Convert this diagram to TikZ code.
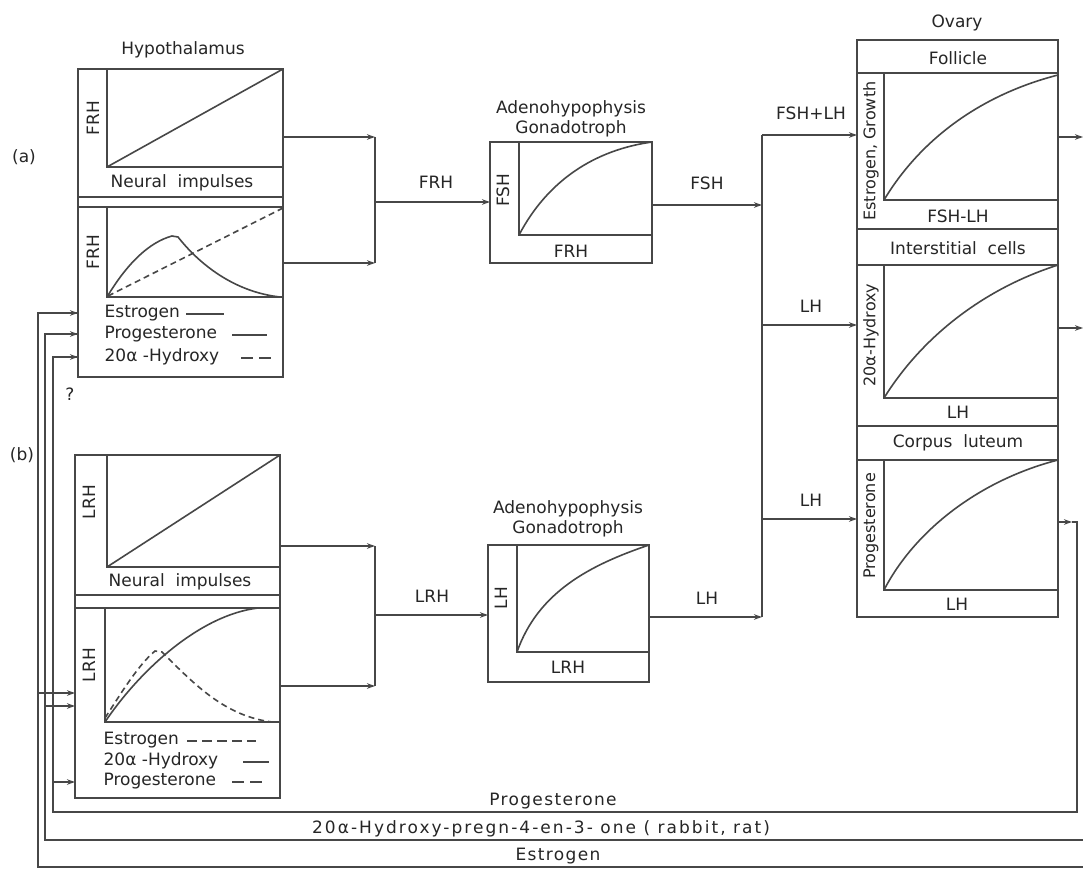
\documentclass[tikz,border=0pt]{standalone}
\usepackage{fontspec}
\setmainfont{DejaVu Sans}
\newfontfamily\widefont{DejaVu Sans}[LetterSpace=8]
\newfontfamily\widerfont{DejaVu Sans}[LetterSpace=12]
\usetikzlibrary{arrows.meta}
\begin{document}
\begin{tikzpicture}[x=1pt,y=-1pt,line width=1.3pt,color=black!72,
  box/.style={draw,rectangle,inner sep=0pt,outer sep=0pt,anchor=north west},
  lbl/.style={text=black!85,font=\fontsize{17}{19}\selectfont,inner sep=0pt},
  slbl/.style={text=black!85,font=\fontsize{16}{18}\selectfont,inner sep=0pt},
  blbl/.style={text=black!85,font=\fontsize{17}{19}\selectfont\widefont,inner sep=0pt},
  arr/.style={-{Stealth[length=8pt,width=5.5pt]}},
  dsh/.style={dash pattern=on 6pt off 4pt},
  curve/.style={line width=1.6pt}]
\useasboundingbox (0,0) rectangle (1083,869);
\fill[white] (0,0) rectangle (1083,869);

% ---------- side labels ----------
\node[lbl] (la) at (24,157) {(a)};
\node[lbl] (lb) at (22,455) {(b)};
\node[lbl] (qm) at (70,394) {?};

% ---------- Hypothalamus (a) ----------
\node[lbl] (tHypA) at (183,50) {Hypothalamus};
\node[box,minimum width=205,minimum height=308] (hypA) at (78,69) {};
\draw (107,69) -- (107,167) -- (283,167);
\draw (78,197) -- (283,197);
\draw (78,207) -- (283,207);
\draw (107,207) -- (107,297) -- (283,297);
\draw[curve] (107,167) -- (283,69);
\node[lbl] (niA) at (182,183) {Neural\ \ impulses};
\node[lbl,rotate=90] (frhA1) at (93,118) {FRH};
\node[lbl,rotate=90] (frhA2) at (93,252) {FRH};
\draw[curve] (107,297) .. controls (128,262) and (150,242) .. (172,236) -- (178,237)
  .. controls (200,265) and (235,292) .. (280,297);
\draw[curve,dsh] (108,296) -- (283,208);
\node[lbl,anchor=west] (legA1) at (104,313) {Estrogen};
\draw (186,314) -- (224,314);
\node[lbl,anchor=west] (legA2) at (104,334) {Progesterone};
\draw (232,335) -- (267,335);
\node[lbl,anchor=west] (legA3) at (104,357) {20α -Hydroxy};
\draw[dash pattern=on 12pt off 6pt] (241,358) -- (271,358);

% junction (a)
\coordinate (jA1) at (375,137);
\coordinate (jA2) at (375,263);
\coordinate (jAm) at (375,202);
\draw (jA1) -- (jA2);
\draw[arr] (hypA.east |- jA1) -- (jA1);
\draw[arr] (hypA.east |- jA2) -- (jA2);

% ---------- Adenohypophysis (a) ----------
\node[lbl] (tAdA1) at (571,109) {Adenohypophysis};
\node[lbl] (tAdA2) at (571,129) {Gonadotroph};
\node[box,minimum width=162,minimum height=121] (adA) at (490,142) {};
\draw (519,142) -- (519,235) -- (652,235);
\draw[curve] (519,235) .. controls (548,180) and (595,150) .. (652,142);
\node[lbl,rotate=90] (fshA) at (503,190) {FSH};
\node[lbl] (frhA3) at (571,251) {FRH};
\draw[arr] (jAm) -- (adA.west |- jAm);
\node[lbl] (lFRH) at (436,182) {FRH};

% ---------- ovary junction ----------
\coordinate (jO1) at (762,135);
\coordinate (jO2) at (762,325);
\coordinate (jO3) at (762,519);
\coordinate (jO4) at (762,617);
\coordinate (jOf) at (762,205);
\draw (jO1) -- (jO4);
\draw[arr] (adA.east |- jOf) -- (jOf);
\node[lbl] (lFSH) at (707,183) {FSH};

% ---------- Ovary ----------
\node[lbl] (tOv) at (957,23) {Ovary};
\node[box,minimum width=201,minimum height=577] (ov) at (857,40) {};
\draw (857,73) -- (1058,73);
\draw (884,73) -- (884,200) -- (1058,200);
\draw (857,229) -- (1058,229);
\draw (857,265) -- (1058,265);
\draw (884,265) -- (884,398) -- (1058,398);
\draw (857,426) -- (1058,426);
\draw (857,460) -- (1058,460);
\draw (884,460) -- (884,590) -- (1058,590);
\node[lbl] (fol) at (958,58) {Follicle};
\node[lbl] (fshlh) at (958,216) {FSH-LH};
\node[lbl] (inter) at (958,248) {Interstitial\ \ cells};
\node[lbl] (lhO1) at (958,412) {LH};
\node[lbl] (corp) at (958,443) {Corpus\ \ luteum};
\node[lbl] (lhO2) at (957,604) {LH};
\node[slbl,rotate=90] (yEG) at (871,151) {Estrogen, Growth};
\node[slbl,rotate=90] (yHy) at (871,335) {20α-Hydroxy};
\node[slbl,rotate=90] (yPr) at (871,526) {Progesterone};
\draw[curve] (884,200) .. controls (920,140) and (980,95) .. (1058,75);
\draw[curve] (884,398) .. controls (920,340) and (980,290) .. (1058,265);
\draw[curve] (884,590) .. controls (915,530) and (980,480) .. (1058,460);

\draw[arr] (jO1) -- (ov.west |- jO1);
\node[lbl] (lFL) at (811,113) {FSH+LH};
\draw[arr] (jO2) -- (ov.west |- jO2);
\node[lbl] (lLH1) at (811,306) {LH};
\draw[arr] (jO3) -- (ov.west |- jO3);
\node[lbl] (lLH2) at (811,500) {LH};

% ovary outputs
\coordinate (oF) at (1083,137);
\coordinate (oI) at (1083,328);
\draw[arr] (ov.east |- oF) -- (oF);
\draw[arr] (ov.east |- oI) -- (oI);

% ---------- feedback lines ----------
\coordinate (cP1) at (1072,522);
\coordinate (cP2) at (1077,812);
\coordinate (cPL) at (53,812);
\coordinate (aP) at (78,357);
\draw[arr] (ov.east |- cP1) -- (cP1);
\draw (cP1) -| (cP2) -- (cPL) |- (aP);
\draw[arr] (cPL |- aP) -- (hypA.west |- aP);

\coordinate (cH1) at (1083,840);
\coordinate (cHL) at (45,840);
\coordinate (aH) at (78,334);
\draw (cH1) -- (cHL) |- (aH);
\draw[arr] (cHL |- aH) -- (hypA.west |- aH);

\coordinate (cE1) at (1083,867);
\coordinate (cEL) at (38,867);
\coordinate (aE) at (78,313);
\draw (cE1) -- (cEL) |- (aE);
\draw[arr] (cEL |- aE) -- (hypA.west |- aE);

\node[blbl] (bP) at (553,801) {Progesterone};
\node[text=black!85,font=\fontsize{17}{19}\selectfont\widerfont,inner sep=0pt] (bH) at (541,829) {20α-Hydroxy-pregn-4-en-3- one ( rabbit, rat)};
\node[blbl] (bE) at (558,856) {Estrogen};

% ---------- Hypothalamus (b) ----------
\node[box,minimum width=205,minimum height=343] (hypB) at (75,455) {};
\draw (107,455) -- (107,567) -- (280,567);
\draw (75,595) -- (280,595);
\draw (75,608) -- (280,608);
\draw (105,608) -- (105,722) -- (280,722);
\draw[curve] (107,567) -- (280,455);
\node[lbl] (niB) at (180,582) {Neural\ \ impulses};
\node[lbl,rotate=90] (lrhB1) at (89,502) {LRH};
\node[lbl,rotate=90] (lrhB2) at (89,665) {LRH};
\draw[curve] (105,722) .. controls (140,670) and (200,615) .. (258,608) -- (280,608);
\draw[curve,dsh] (105,718) .. controls (120,695) and (138,665) .. (155,651) -- (162,652)
  .. controls (195,685) and (225,716) .. (272,722);
\node[lbl,anchor=west] (legB1) at (103,740) {Estrogen};
\draw[dash pattern=on 10pt off 5pt] (187,741) -- (256,741);
\node[lbl,anchor=west] (legB2) at (103,761) {20α -Hydroxy};
\draw (243,762) -- (269,762);
\node[lbl,anchor=west] (legB3) at (103,781) {Progesterone};
\draw[dash pattern=on 12pt off 6pt] (232,782) -- (262,782);

% feedback into (b)
\coordinate (bE) at (38,693);
\coordinate (bH) at (45,706);
\coordinate (bPr) at (53,782);
\draw[arr] (bE) -- (hypB.west |- bE);
\draw[arr] (bH) -- (hypB.west |- bH);
\draw[arr] (bPr) -- (hypB.west |- bPr);

% junction (b)
\coordinate (jB1) at (375,546);
\coordinate (jB2) at (375,686);
\coordinate (jBm) at (375,615);
\draw (jB1) -- (jB2);
\draw[arr] (hypB.east |- jB1) -- (jB1);
\draw[arr] (hypB.east |- jB2) -- (jB2);

% ---------- Adenohypophysis (b) ----------
\node[lbl] (tAdB1) at (568,509) {Adenohypophysis};
\node[lbl] (tAdB2) at (568,529) {Gonadotroph};
\node[box,minimum width=161,minimum height=137] (adB) at (488,545) {};
\draw (517,545) -- (517,652) -- (649,652);
\draw[curve] (517,652) .. controls (538,592) and (590,565) .. (649,545);
\node[lbl,rotate=90] (lhB) at (501,598) {LH};
\node[lbl] (lrhB3) at (568,667) {LRH};
\draw[arr] (jBm) -- (adB.west |- jBm);
\node[lbl] (lLRH) at (432,596) {LRH};
\draw[arr] (adB.east |- jO4) -- (jO4);
\node[lbl] (lLHb) at (707,598) {LH};
\end{tikzpicture}
\end{document}
